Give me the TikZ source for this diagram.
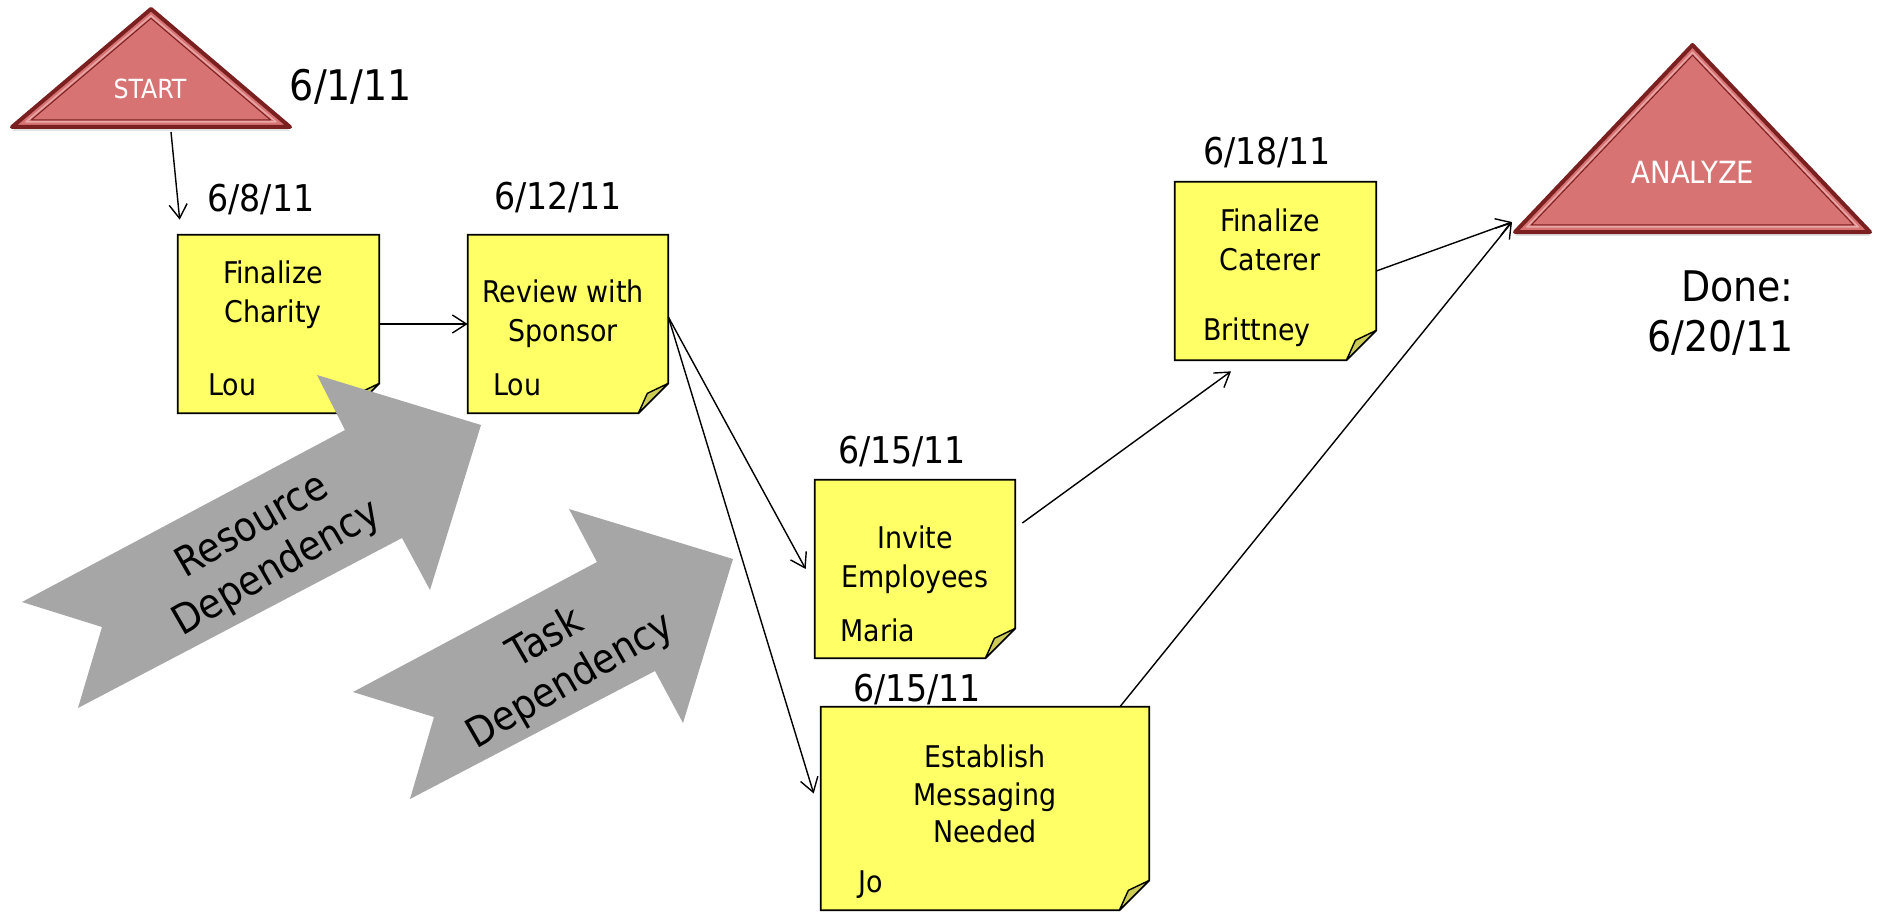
\documentclass[tikz,border=0pt]{standalone}
\usepackage{fontspec}
\setmainfont{DejaVu Sans Condensed}
\usepackage{tikz}
\usetikzlibrary{arrows.meta,positioning,calc}

\definecolor{notey}{HTML}{FFFF66}
\definecolor{curly}{HTML}{CCCC55}
\definecolor{milered}{HTML}{D77373}
\definecolor{mileedge}{HTML}{7A2020}
\definecolor{milelight}{HTML}{E8A8A8}
\definecolor{depgray}{HTML}{A6A6A6}

\tikzset{
  note/.style={rectangle, inner sep=0pt, minimum width=4cm, minimum height=3.56cm},
  task/.style={align=center, inner sep=0pt, font=\fontsize{17}{22.2}\selectfont},
  who/.style={anchor=west, inner sep=0pt, font=\fontsize{17}{22.2}\selectfont},
  when/.style={inner sep=0pt, font=\fontsize{21}{25}\selectfont},
  dep/.style={align=center, inner sep=0pt, rotate=30, font=\fontsize{23.3}{28}\selectfont},
  link/.style={line width=0.8pt, -{Straight Barb[length=0.28cm,width=0.36cm]}},
  paper/.style={fill=notey, draw=black, line width=1pt},
  curl/.style={fill=curly, draw=black, line width=0.8pt, line join=round},
}

\newcommand{\postit}[1]{%
  \draw[paper] (#1.north west) -- (#1.north east) -- ([yshift=0.6cm]#1.south east)
    -- ([xshift=-0.6cm]#1.south east) -- (#1.south west) -- cycle;
  \draw[curl] ([xshift=-0.6cm]#1.south east) .. controls ([xshift=-0.52cm,yshift=0.2cm]#1.south east) .. ([xshift=-0.42cm,yshift=0.4cm]#1.south east)
    -- ([yshift=0.6cm]#1.south east) -- cycle;
}

\newcommand{\peak}[3]{%
  \fill[black!30, opacity=0.35] ([yshift=-0.08cm]#1-t) -- ([yshift=-0.08cm]#1-l) -- ([yshift=-0.08cm]#1-r) -- cycle;
  \draw[fill=milered, draw=mileedge, line width=0.08cm, line join=round] (#1-t) -- (#1-l) -- (#1-r) -- cycle;
  \draw[milelight, line width=0.03cm, line join=round] ($(#1-c)!#2!(#1-t)$) -- ($(#1-c)!#2!(#1-l)$) -- ($(#1-c)!#2!(#1-r)$) -- cycle;
  \draw[mileedge, line width=0.02cm, line join=round] ($(#1-c)!#3!(#1-t)$) -- ($(#1-c)!#3!(#1-l)$) -- ($(#1-c)!#3!(#1-r)$) -- cycle;
}

\begin{document}
\begin{tikzpicture}[x=0.02cm, y=-0.02cm]
\useasboundingbox (0,0) rectangle (1878,912);

\coordinate (st-t) at (151,9);
\coordinate (st-l) at (12,127);
\coordinate (st-r) at (290,127);
\coordinate (st-c) at (151,76);
\peak{st}{0.9}{0.86}
\node[text=white, font=\fontsize{15}{18}\selectfont] (start) at (150,89) {START};

\coordinate (an-t) at (1692.5,45);
\coordinate (an-l) at (1515,232);
\coordinate (an-r) at (1870,232);
\coordinate (an-c) at (1692.5,155.75);
\peak{an}{0.934}{0.908}
\node[text=white, font=\fontsize{17.4}{20}\selectfont] (analyze) at (1693,172) {ANALYZE};

\node[note, minimum width=4.02cm] (charity) at (278.5,324) {};
\node[note] (sponsor) at (568,324) {};
\node[note] (invite) at (915,569) {};
\node[note, minimum width=6.56cm, minimum height=4.06cm] (messaging) at (985,808.5) {};
\node[note, minimum width=4.02cm] (caterer) at (1275.5,271) {};
\foreach \n in {charity,sponsor,invite,messaging,caterer} {\postit{\n}}

\node[task] (charity-t) at (273,295) {Finalize\\Charity};
\node[task] (sponsor-t) at (563,314) {Review with\\Sponsor};
\node[task] (invite-t) at (915,560) {Invite\\Employees};
\node[task, font=\fontsize{17}{21.5}\selectfont] (messaging-t) at (985,794) {Establish\\Messaging\\Needed};
\node[task] (caterer-t) at (1270,240) {Finalize\\Caterer};

\node[who] (charity-w) at (208,385) {Lou};
\node[who] (sponsor-w) at (493,385) {Lou};
\node[who] (invite-w) at (840,630) {Maria};
\node[who] (messaging-w) at (858,885) {Jo};
\node[who] (caterer-w) at (1203,332) {Brittney};

\node[when, font=\fontsize{24}{28}\selectfont] (start-d) at (351,87) {6/1/11};
\node[when] (charity-d) at (261,200) {6/8/11};
\node[when] (sponsor-d) at (558,198) {6/12/11};
\node[when] (invite-d) at (902,452) {6/15/11};
\node[when] (messaging-d) at (917,690) {6/15/11};
\node[when] (caterer-d) at (1267,153) {6/18/11};
\node[when, align=right, anchor=east, font=\fontsize{24}{28}\selectfont] (done) at (1794,313) {Done:\\6/20/11};

\fill[depgray] (22,602) -- (102,627) -- (78,708) -- (402,538) -- (430,590) -- (481,425) -- (317,375) -- (345,430) -- cycle;
\node[dep] (resdep) at (265,548) {Resource\\Dependency};
\fill[depgray] (353,692) -- (434,717) -- (410,799) -- (655,671) -- (683,723) -- (733,559) -- (569,509) -- (597,562) -- cycle;
\node[dep] (taskdep) at (558.5,660) {Task\\Dependency};

\coordinate (st-out) at (171,132);
\coordinate (an-in) at (1512,222);
\draw[link] (st-out) -- ([xshift=0.04cm,yshift=0.3cm]charity.north west);
\draw[link] (charity.east) -- (sponsor.west);
\draw[link] ([yshift=0.14cm]sponsor.east) -- ([xshift=-0.18cm]invite.west);
\draw[link] ([yshift=0.14cm]sponsor.east) -- ([xshift=-0.14cm,yshift=0.3cm]messaging.west);
\draw[link] ([xshift=0.14cm,yshift=0.92cm]invite.east) -- ([xshift=-0.89cm,yshift=-0.22cm]caterer.south);
\draw[link] (caterer.east) -- (an-in);
\draw[link] ([xshift=2.7cm]messaging.north) -- (an-in);
\end{tikzpicture}
\end{document}
